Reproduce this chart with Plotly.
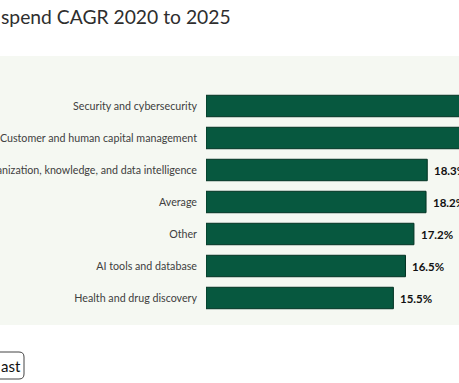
import plotly.graph_objects as go

# ---- data ----
categories = [
    "Security and cybersecurity",
    "Customer and human capital management",
    "Organization, knowledge, and data intelligence",
    "Average",
    "Other",
    "AI tools and database",
    "Health and drug discovery",
]
values = [22.6, 22.0, 18.3, 18.2, 17.2, 16.5, 15.5]
value_labels = [f"{v:.1f}%" for v in values]
title_text = "spend CAGR 2020 to 2025"
button_text = "ast"

# ---- layout geometry (pixels) ----
W, H = 459, 383
ML, MR, MT, MB = 206, 0, 90, 69
PW, PH = W - ML - MR, H - MT - MB


def px(x):
    return (x - ML) / PW


def py(y):
    return (H - MB - y) / PH


fig = go.Figure()
fig.add_trace(go.Bar(
    x=values,
    y=categories,
    orientation="h",
    marker=dict(color="#07583f", line=dict(color="#033323", width=1)),
    hoverinfo="skip",
))

for c, v, t in zip(categories, values, value_labels):
    fig.add_annotation(x=v, y=c, xref="x", yref="y", text=f"<b>{t}</b>", showarrow=False,
                       xanchor="left", xshift=5,
                       font=dict(family="Lato", size=11.5, color="#111111"))

# panel background
fig.add_shape(type="rect", xref="paper", yref="paper",
              x0=px(-5), x1=px(W + 5), y0=py(325), y1=py(56),
              fillcolor="#f5f8f2", line=dict(width=0), layer="below")

# title
fig.add_annotation(xref="paper", yref="paper", x=px(-1), y=py(17), text=title_text,
                   showarrow=False, xanchor="left", yanchor="middle",
                   font=dict(family="Lato", size=19.3, color="#2e2e2e"))

# button
x0, x1, y0, y1, r = -20, 24, 352, 379, 5
path = (f"M {px(x0)} {py(y0)} L {px(x1 - r)} {py(y0)} "
        f"Q {px(x1)} {py(y0)} {px(x1)} {py(y0 + r)} "
        f"L {px(x1)} {py(y1 - r)} Q {px(x1)} {py(y1)} {px(x1 - r)} {py(y1)} "
        f"L {px(x0)} {py(y1)} Z")
fig.add_shape(type="path", xref="paper", yref="paper", path=path,
              fillcolor="white", line=dict(color="#444444", width=1))
fig.add_annotation(xref="paper", yref="paper", x=px(-1), y=py(366), text=button_text,
                   showarrow=False, xanchor="left", yanchor="middle",
                   font=dict(family="Lato", size=15, color="#111111"))

fig.update_layout(
    width=W, height=H,
    margin=dict(l=ML, r=MR, t=MT, b=MB, autoexpand=False),
    paper_bgcolor="white",
    plot_bgcolor="rgba(0,0,0,0)",
    bargap=0.33,
    showlegend=False,
    xaxis=dict(range=[0, 253 / 12.09], visible=False, fixedrange=True),
    yaxis=dict(categoryorder="array", categoryarray=categories, autorange="reversed",
               showgrid=False, showline=False, zeroline=False, ticks="",
               ticklabelstandoff=8, automargin=False,
               tickfont=dict(family="Lato", size=10.7, color="#404040")),
)

fig.write_html("out.html", config={"displayModeBar": False},
               post_script="document.body.style.margin='0';document.body.style.overflow='hidden';")
